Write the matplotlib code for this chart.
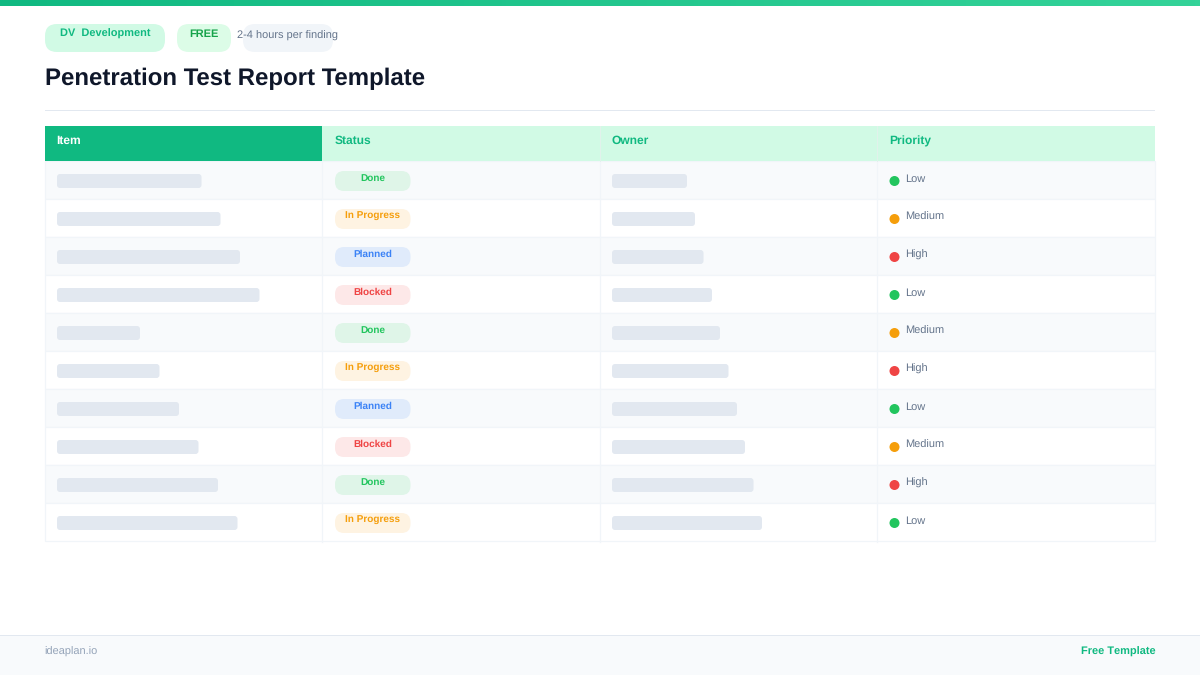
import matplotlib
matplotlib.use("Agg")
import matplotlib.pyplot as plt
import numpy as np
from matplotlib.colors import LinearSegmentedColormap
from matplotlib.patches import FancyBboxPatch, Rectangle, Circle

plt.rcParams['font.family'] = ['Liberation Sans', 'DejaVu Sans']
plt.rcParams['text.hinting'] = 'no_hinting'
plt.rcParams['text.hinting_factor'] = 1

headers = ['Item', 'Status', 'Owner', 'Priority']
statuses = ['Done', 'In Progress', 'Planned', 'Blocked', 'Done',
            'In Progress', 'Planned', 'Blocked', 'Done', 'In Progress']
priorities = ['Low', 'Medium', 'High', 'Low', 'Medium',
              'High', 'Low', 'Medium', 'High', 'Low']
item_widths = [144.5, 163.5, 183, 202.5, 83, 102.5, 122, 141.5, 161, 180.5]
owner_widths = [75, 83, 91.5, 100, 108, 116.5, 125, 133, 141.5, 150]

status_colors = {
    'Done': ('#dff5e8', '#22c55e'),
    'In Progress': ('#fef3e2', '#f59e0b'),
    'Planned': ('#e0ebfb', '#3b82f6'),
    'Blocked': ('#fde8e8', '#ef4444'),
}
priority_colors = {'Low': '#22c55e', 'Medium': '#f59e0b', 'High': '#ef4444'}

col_x = [45, 322, 599.5, 877, 1155]
text_x = [56.6, 334.6, 611.6, 889.4]
row_top = 161.5
row_h = 38
green = '#10b981'
border = '#f1f5f9'


def px(size):
    return size * 0.72


def rbox(ax, x0, y0, x1, y1, r, color, z=2):
    ax.add_patch(FancyBboxPatch((x0, y0), x1 - x0, y1 - y0,
                                boxstyle=f'round,pad=0,rounding_size={r}',
                                fc=color, ec='none', zorder=z))


fig = plt.figure(figsize=(12, 6.75), dpi=100)
ax = fig.add_axes([0, 0, 1, 1])
ax.axis('off')

# top strip
cmap = LinearSegmentedColormap.from_list('strip', ['#10b981', '#34d399'])
ax.imshow(np.linspace(0, 1, 256).reshape(1, -1), cmap=cmap, aspect='auto',
          extent=(0, 1200, 6, 0), zorder=1)
ax.set_xlim(0, 1200)
ax.set_ylim(675, 0)

# badges
rbox(ax, 45, 24, 165, 52, 12, '#d1fae5')
rbox(ax, 177, 24, 231, 52, 12, '#dcfce7')
rbox(ax, 243, 24, 333, 52, 12, '#f1f5f9')
ax.text(105, 37.2, 'DV  Development', fontsize=px(11), fontweight='bold',
        color=green, ha='center', va='baseline', zorder=3)
ax.text(204, 37.2, 'FREE', fontsize=px(11), fontweight='bold',
        color='#16a34a', ha='center', va='baseline', zorder=3)
ax.text(287.4, 38.8, '2-4 hours per finding', fontsize=px(11), color='#64748b',
        ha='center', va='baseline', zorder=3)

ax.text(45, 85, 'Penetration Test Report Template', fontsize=px(24),
        fontweight='bold', color='#0f172a', ha='left', va='baseline', zorder=3)
ax.add_patch(Rectangle((45, 110), 1110, 1, fc='#e2e8f0', ec='none'))

# header row
ax.add_patch(Rectangle((45, 125.5), 1110, 36, fc=border, ec='none', zorder=1))
ax.add_patch(Rectangle((45, 126), 277, 35, fc=green, ec='none', zorder=2))
ax.add_patch(Rectangle((322, 126), 833, 35, fc='#d1fae5', ec='none', zorder=2))
for x in col_x[2:4]:
    ax.plot([x, x], [126, 161], color='#e2f2ec', lw=0.7, zorder=3)
for i, name in enumerate(headers):
    ax.text(text_x[i], 144.6 if name == 'Priority' else 144, name, fontsize=px(12),
            fontweight='bold', color='white' if i == 0 else green,
            ha='left', va='baseline', zorder=4)

# body rows
for i in range(len(statuses)):
    top = row_top + row_h * i
    ax.add_patch(Rectangle((45, top - 0.5), 1110, row_h,
                           fc='#f8fafc' if i % 2 == 0 else 'white',
                           ec=border, lw=0.9, zorder=1))
    rbox(ax, 57, top + 12.5, 57 + item_widths[i], top + 26.5, 3, '#e2e8f0')
    rbox(ax, 612, top + 12.5, 612 + owner_widths[i], top + 26.5, 3, '#e2e8f0')
    bg, fg = status_colors[statuses[i]]
    rbox(ax, 335, top + 9.5, 410.5, top + 29.5, 9, bg)
    ax.text(372.5, top + 19.4, statuses[i], fontsize=px(10), fontweight='bold',
            color=fg, ha='center', va='baseline', zorder=3)
    ax.add_patch(Circle((894.5, top + 19.5), 5, fc=priority_colors[priorities[i]],
                        ec='none', zorder=3))
    ax.text(905.2, top + 20.4, priorities[i], fontsize=px(11), color='#64748b',
            ha='left', va='baseline', zorder=3)

for x in col_x[1:4]:
    ax.plot([x, x], [162, 541.5], color=border, lw=0.9, zorder=1.5)

# footer
ax.add_patch(Rectangle((0, 635), 1200, 40, fc='#f8fafc', ec='none', zorder=1))
ax.add_patch(Rectangle((0, 635), 1200, 1, fc='#e2e8f0', ec='none', zorder=2))
ax.text(44.6, 655, 'ideaplan.io', fontsize=px(11), color='#94a3b8',
        ha='left', va='baseline', zorder=3)
ax.text(1155.2, 654.3, 'Free Template', fontsize=px(11), fontweight='bold',
        color=green, ha='right', va='baseline', zorder=3)

fig.savefig('out.png', dpi=100)
